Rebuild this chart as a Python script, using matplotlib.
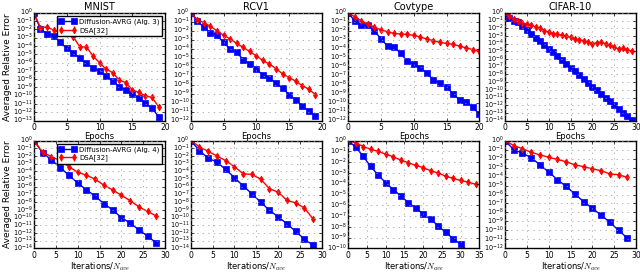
import matplotlib
matplotlib.use('Agg')
import matplotlib.pyplot as plt
import numpy as np

plt.style.use('classic')
plt.rcParams['font.family'] = 'DejaVu Sans'

# log10 of the averaged relative error
titles = ['MNIST', 'RCV1', 'Covtype', 'CIFAR-10']

# top row: epochs
ep_mnist = list(range(0, 20))
avrg_mnist = [0, -2.0, -2.5, -2.8, -3.5, -4.3, -4.8, -5.5, -6.1, -6.6, -7.0, -7.6,
              -8.2, -8.9, -9.3, -9.8, -10.3, -10.9, -11.5, -12.5]
dsa_mnist = [0, -1.8, -1.7, -2.1, -2.4, -2.4, -2.9, -4.1, -4.1, -5.2, -6.0, -6.8,
             -7.2, -8.1, -8.4, -9.3, -9.6, -10.0, -10.2, -11.3]

ep_rcv1 = list(range(0, 20))
avrg_rcv1 = [0, -0.9, -1.6, -2.2, -2.5, -3.3, -4.0, -4.4, -5.2, -5.7, -6.3, -6.9,
             -7.3, -7.8, -8.4, -9.1, -9.7, -10.4, -10.9, -11.5]
dsa_rcv1 = [0, -0.75, -1.1, -1.5, -2.0, -2.5, -2.9, -3.4, -3.85, -4.3, -4.8, -5.3,
            -5.7, -6.2, -6.8, -7.2, -7.6, -8.1, -8.5, -9.1]

ep_cov = list(range(0, 21))
avrg_cov = [0, -0.9, -1.4, -1.4, -2.0, -2.9, -3.7, -3.8, -4.5, -5.4, -5.7, -6.1,
            -6.7, -7.5, -7.8, -8.3, -9.0, -9.7, -9.9, -10.5, -11.3]
dsa_cov = [0, -0.45, -0.9, -1.2, -1.6, -1.9, -2.1, -2.3, -2.35, -2.4, -2.5, -2.7,
           -2.9, -3.1, -3.3, -3.4, -3.5, -3.7, -3.9, -4.1, -4.3]

ep_cifar = list(range(0, 30))
avrg_cifar = [0, -0.65, -1.0, -1.2, -1.65, -2.2, -2.7, -3.3, -3.7, -4.2, -4.7, -5.1,
              -5.6, -6.1, -6.6, -7.1, -7.6, -8.1, -8.6, -9.1, -9.6, -10.0, -10.5,
              -11.0, -11.5, -12.0, -12.5, -12.95, -13.4, -13.9]
dsa_cifar = [0, -0.45, -0.75, -1.0, -1.35, -1.5, -1.6, -1.8, -2.0, -2.3, -2.5, -2.7,
             -2.8, -2.9, -3.0, -3.2, -3.4, -3.5, -3.6, -3.8, -4.0, -3.9, -3.8, -4.0,
             -4.2, -4.5, -4.7, -4.6, -4.8, -5.0]

# bottom row: iterations / N_ave
it_mnist = list(range(0, 29, 2))
avrg2_mnist = [0, -1.6, -2.5, -3.5, -4.5, -5.5, -6.4, -7.2, -8.2, -9.0, -10.0,
               -10.7, -11.6, -12.4, -13.3]
dsa2_mnist = [0, -1.5, -2.1, -2.6, -3.4, -4.1, -4.5, -5.0, -5.8, -6.4, -7.1, -7.8,
              -8.6, -9.2, -9.8]

it_rcv1 = list(range(0, 29, 2))
avrg2_rcv1 = [0, -1.3, -2.3, -2.8, -3.75, -4.8, -5.9, -6.9, -8.0, -9.05, -9.9,
              -10.8, -11.8, -12.8, -13.6]
dsa2_rcv1 = [0, -0.8, -1.4, -2.0, -2.6, -3.4, -4.3, -4.4, -5.0, -6.25, -6.7, -7.75,
             -8.1, -8.75, -10.2]

it_cov_avrg = list(range(0, 33, 2))
avrg2_cov = [0, -0.6, -1.45, -2.4, -3.2, -3.9, -4.55, -5.1, -5.75, -6.25, -6.8,
             -7.3, -7.9, -8.5, -9.1, -9.6, -10.3]
it_cov_dsa = list(range(0, 35, 2))
dsa2_cov = [0, -0.2, -0.55, -0.8, -1.0, -1.25, -1.5, -1.8, -2.05, -2.3, -2.5, -2.8,
            -3.0, -3.3, -3.5, -3.7, -3.85, -4.05]

it_cifar = list(range(0, 29, 2))
avrg2_cifar = [0, -1.0, -1.4, -1.9, -2.7, -3.5, -4.35, -5.1, -5.95, -6.8, -7.55,
               -8.3, -9.1, -10.0, -10.85]
dsa2_cifar = [0, -0.55, -0.9, -1.3, -1.6, -1.85, -2.1, -2.35, -2.7, -2.9, -3.15,
              -3.35, -3.7, -3.8, -4.1]

top = [(ep_mnist, avrg_mnist, ep_mnist, dsa_mnist, 20, -13),
       (ep_rcv1, avrg_rcv1, ep_rcv1, dsa_rcv1, 20, -12),
       (ep_cov, avrg_cov, ep_cov, dsa_cov, 20, -12),
       (ep_cifar, avrg_cifar, ep_cifar, dsa_cifar, 30, -14)]
bottom = [(it_mnist, avrg2_mnist, it_mnist, dsa2_mnist, 30, -14),
          (it_rcv1, avrg2_rcv1, it_rcv1, dsa2_rcv1, 30, -14),
          (it_cov_avrg, avrg2_cov, it_cov_dsa, dsa2_cov, 35, -10),
          (it_cifar, avrg2_cifar, it_cifar, dsa2_cifar, 30, -12)]

fig = plt.figure(figsize=(6.4, 2.73), dpi=100, facecolor='white')
lefts = [0.053, 0.298, 0.544, 0.789]
bottoms = [0.558, 0.09]
w, h = 0.205, 0.395


def draw(ax, spec, xlabel, alg):
    xa, ya, xd, yd, xmax, ymin = spec
    ya = 10.0 ** np.array(ya)
    yd = 10.0 ** np.array(yd)
    ax.semilogy(xa, ya, 'b-s', markersize=4.5, markeredgecolor='b', lw=1,
                label='Diffusion-AVRG (Alg. %d)' % alg)
    ax.errorbar(xd, yd, yerr=[yd * 0.45, yd * 0.8], fmt='r-d', markersize=3.5,
                markeredgecolor='r', lw=1, elinewidth=1, capsize=0,
                label='DSA[32]')
    ax.set_yscale('log')
    ax.set_xlim(0, xmax)
    ax.set_ylim(10.0 ** ymin, 1)
    ax.set_yticks([10.0 ** k for k in range(ymin, 1)])
    ax.minorticks_off()
    ax.grid(True, linestyle=':', color='0.6')
    ax.tick_params(axis='y', labelsize=4.7, length=2.5, pad=1)
    ax.tick_params(axis='x', labelsize=5.5, length=2.5, pad=1.5)
    ax.set_xlabel(xlabel, fontsize=6, labelpad=0.5)


for i in range(4):
    ax = fig.add_axes([lefts[i], bottoms[0], w, h])
    draw(ax, top[i], 'Epochs', 3)
    ax.set_title(titles[i], fontsize=7, pad=2)
    if i == 0:
        ax.set_ylabel('Averaged Relative Error', fontsize=6.5, labelpad=0.5)
        ax.legend(loc='upper right', fontsize=5, numpoints=2, handlelength=2.5,
                  borderpad=0.3, labelspacing=0.3, handletextpad=0.4)

for i in range(4):
    ax = fig.add_axes([lefts[i], bottoms[1], w, h])
    draw(ax, bottom[i], 'Iterations/$N_{ave}$', 4)
    if i == 0:
        ax.set_ylabel('Averaged Relative Error', fontsize=6.5, labelpad=0.5)
        ax.legend(loc='upper right', fontsize=5, numpoints=2, handlelength=2.5,
                  borderpad=0.3, labelspacing=0.3, handletextpad=0.4)

fig.savefig('out.png', dpi=100, facecolor='white')
